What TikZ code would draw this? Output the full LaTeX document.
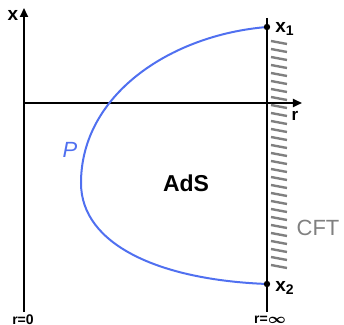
\documentclass[tikz,border=0pt]{standalone}
\usepackage{fontspec}
\setmainfont{Liberation Sans}
\usepackage{amsmath,bm}
\usepackage{tikz}
\usetikzlibrary{arrows.meta,calc,positioning}
\definecolor{adsblue}{RGB}{80,112,240}
\definecolor{cftgray}{RGB}{128,128,128}

\begin{document}
\begin{tikzpicture}[x=0.5pt,y=-0.5pt,>={Triangle[length=4.5pt,width=4pt]},
  axis/.style={line width=1pt,->},
  bdry/.style={line width=1pt},
  hatchline/.style={cftgray,line width=1.2pt},
  curveP/.style={adsblue,line width=1pt},
  lbl/.style={font=\bfseries\fontsize{9.5}{10}\selectfont,inner sep=0pt},
  endlbl/.style={inner sep=0pt,font=\bfseries\fontsize{7}{7}\selectfont}]
\useasboundingbox (0,0) rectangle (344,325);
\coordinate (o) at (24,103);
\coordinate (xtop) at (24,8);
\coordinate (xbot) at (24,312);
\coordinate (rtip) at (302,103);
\coordinate (btop) at (267,18);
\coordinate (bbot) at (267,312);
\coordinate (x1) at (267,27);
\coordinate (x2) at (267,284);
\coordinate (turn) at (81,183);
\draw[axis] (xbot)--(xtop);
\draw[axis] (o)--(rtip);
\draw[bdry] (btop)--(bbot);
% boundary hatching
\foreach \k in {0,...,28}{
  \draw[hatchline] (271,41+8*\k) -- ++(16,3);}
\draw[curveP] (x1) .. controls (170,35) and (81,95) .. (turn)
  .. controls (81,245) and (160,280) .. (x2);
\fill (x1) circle (3.2);
\fill (x2) circle (3.2);
\node[lbl] (xlab) at (13,15) {x};
\node[lbl,anchor=west] (x1lab) at (275,29) {x\textsubscript{\fontsize{7}{7}\selectfont 1}};
\node[lbl,anchor=west] (x2lab) at (275,288) {x\textsubscript{\fontsize{7}{7}\selectfont 2}};
\node[lbl,font=\bfseries\fontsize{8.5}{9}\selectfont] (rlab) at (295,116) {r};
\node[endlbl] (r0) at (23,319.5) {r=0};
\node[endlbl] (rinf) at (270,319.5) {r=$\bm{\infty}$};
\node[adsblue,inner sep=0pt,font=\itshape\fontsize{11}{11}\selectfont] (plab) at (70,150) {P};
\node[inner sep=0pt,font=\bfseries\fontsize{11.5}{12}\selectfont] (ads) at (186,183) {AdS};
\node[cftgray,inner sep=0pt,font=\fontsize{11}{11}\selectfont] (cft) at (318,228) {CFT};
\end{tikzpicture}
\end{document}
